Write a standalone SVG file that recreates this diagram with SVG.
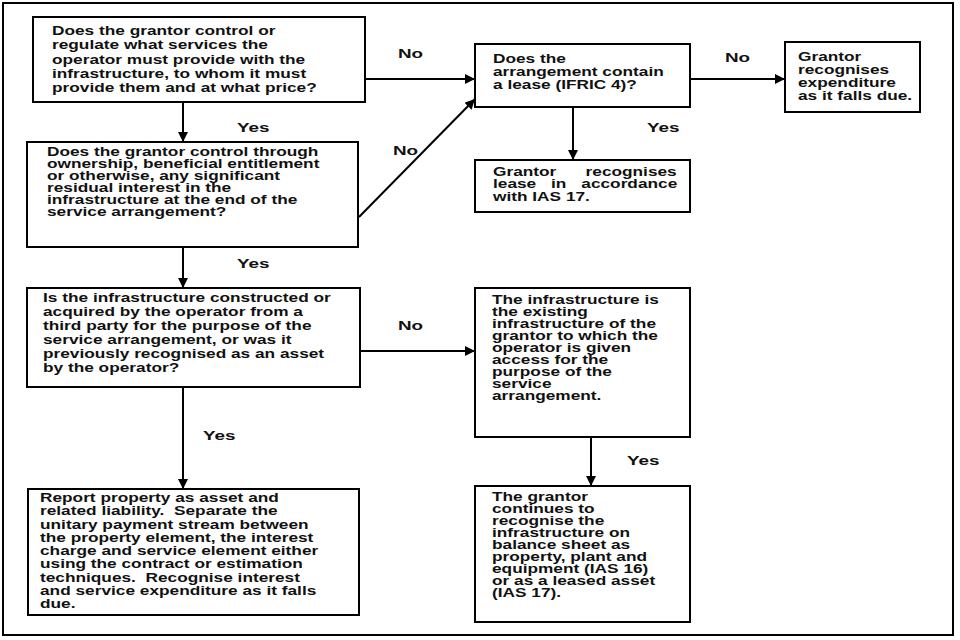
<svg xmlns="http://www.w3.org/2000/svg" width="960" height="640" viewBox="0 0 960 640">
<style>
.box{fill:#fff;stroke:#000;stroke-width:2}
.t{font-family:"Liberation Sans",Arial,sans-serif;font-weight:bold;font-size:12px;fill:#111}
.lb{font-family:"Liberation Sans",Arial,sans-serif;font-weight:bold;font-size:13px;fill:#111}
.c{stroke:#000;stroke-width:2;fill:none;marker-end:url(#ah)}
</style>
<defs>
<marker id="ah" viewBox="0 0 10 10" refX="10" refY="5" markerWidth="11" markerHeight="10" markerUnits="userSpaceOnUse" orient="auto"><path d="M0,0 L10,5 L0,10 z" fill="#000"/></marker>
</defs>
<rect x="0" y="0" width="960" height="640" fill="#fff"/>
<rect x="3" y="3" width="950" height="632" fill="none" stroke="#000" stroke-width="2"/>

<g id="connectors">
<line class="c" x1="365" y1="79" x2="475" y2="79"/>
<line class="c" x1="359" y1="217" x2="475" y2="99"/>
<line class="c" x1="183" y1="102" x2="183" y2="142"/>
<line class="c" x1="183" y1="247" x2="183" y2="288"/>
<line class="c" x1="360" y1="351" x2="475" y2="351"/>
<line class="c" x1="183" y1="387" x2="183" y2="489"/>
<line class="c" x1="690" y1="79" x2="785" y2="79"/>
<line class="c" x1="573" y1="107" x2="573" y2="160"/>
<line class="c" x1="591" y1="437" x2="591" y2="486"/>
<text class="lb" transform="translate(398,58) scale(1.45,1)">No</text>
<text class="lb" transform="translate(393,155) scale(1.45,1)">No</text>
<text class="lb" transform="translate(237,132) scale(1.45,1)">Yes</text>
<text class="lb" transform="translate(237,268) scale(1.45,1)">Yes</text>
<text class="lb" transform="translate(398,330) scale(1.45,1)">No</text>
<text class="lb" transform="translate(203,440) scale(1.45,1)">Yes</text>
<text class="lb" transform="translate(725,62) scale(1.45,1)">No</text>
<text class="lb" transform="translate(647,132) scale(1.45,1)">Yes</text>
<text class="lb" transform="translate(627,465) scale(1.45,1)">Yes</text>
</g>

<g id="q1">
<rect class="box" x="33" y="17" width="332" height="85"/>
<text class="t" transform="translate(52,35) scale(1.44,1)"><tspan x="0" y="0">Does the grantor control or</tspan><tspan x="0" y="14.3">regulate what services the</tspan><tspan x="0" y="28.6">operator must provide with the</tspan><tspan x="0" y="42.9">infrastructure, to whom it must</tspan><tspan x="0" y="57.2">provide them and at what price?</tspan></text>
</g>

<g id="q2">
<rect class="box" x="27" y="142" width="331" height="105"/>
<text class="t" transform="translate(47,156) scale(1.44,1)"><tspan x="0" y="0">Does the grantor control through</tspan><tspan x="0" y="12">ownership, beneficial entitlement</tspan><tspan x="0" y="24">or otherwise, any significant</tspan><tspan x="0" y="36">residual interest in the</tspan><tspan x="0" y="48">infrastructure at the end of the</tspan><tspan x="0" y="60">service arrangement?</tspan></text>
</g>

<g id="q3">
<rect class="box" x="27" y="288" width="333" height="99"/>
<text class="t" transform="translate(43,302) scale(1.44,1)"><tspan x="0" y="0">Is the infrastructure constructed or</tspan><tspan x="0" y="14">acquired by the operator from a</tspan><tspan x="0" y="28">third party for the purpose of the</tspan><tspan x="0" y="42">service arrangement, or was it</tspan><tspan x="0" y="56">previously recognised as an asset</tspan><tspan x="0" y="70">by the operator?</tspan></text>
</g>

<g id="report">
<rect class="box" x="28" y="489" width="331" height="126"/>
<text class="t" transform="translate(40,502) scale(1.44,1)"><tspan x="0" y="0">Report property as asset and</tspan><tspan x="0" y="13.3">related liability.&#160; Separate the</tspan><tspan x="0" y="26.6">unitary payment stream between</tspan><tspan x="0" y="39.9">the property element, the interest</tspan><tspan x="0" y="53.2">charge and service element either</tspan><tspan x="0" y="66.5">using the contract or estimation</tspan><tspan x="0" y="79.8">techniques.&#160; Recognise interest</tspan><tspan x="0" y="93.1">and service expenditure as it falls</tspan><tspan x="0" y="106.4">due.</tspan></text>
</g>

<g id="lease">
<rect class="box" x="475" y="44" width="215" height="63"/>
<text class="t" transform="translate(493,63) scale(1.44,1)"><tspan x="0" y="0">Does the</tspan><tspan x="0" y="13">arrangement contain</tspan><tspan x="0" y="26">a lease (IFRIC 4)?</tspan></text>
</g>

<g id="expenditure">
<rect class="box" x="785" y="42" width="135" height="70"/>
<text class="t" transform="translate(798,61) scale(1.44,1)"><tspan x="0" y="0">Grantor</tspan><tspan x="0" y="13">recognises</tspan><tspan x="0" y="26">expenditure</tspan><tspan x="0" y="39">as it falls due.</tspan></text>
</g>

<g id="ias17">
<rect class="box" x="475" y="160" width="215" height="52"/>
<text class="t" transform="translate(493,176) scale(1.44,1)"><tspan x="0" y="0" word-spacing="17">Grantor recognises</tspan><tspan x="0" y="12.5" word-spacing="7">lease in accordance</tspan><tspan x="0" y="25">with IAS 17.</tspan></text>
</g>

<g id="existing">
<rect class="box" x="475" y="288" width="215" height="149"/>
<text class="t" transform="translate(492,304) scale(1.44,1)"><tspan x="0" y="0">The infrastructure is</tspan><tspan x="0" y="12">the existing</tspan><tspan x="0" y="24">infrastructure of the</tspan><tspan x="0" y="36">grantor to which the</tspan><tspan x="0" y="48">operator is given</tspan><tspan x="0" y="60">access for the</tspan><tspan x="0" y="72">purpose of the</tspan><tspan x="0" y="84">service</tspan><tspan x="0" y="96">arrangement.</tspan></text>
</g>

<g id="continues">
<rect class="box" x="475" y="486" width="215" height="136"/>
<text class="t" transform="translate(492,501) scale(1.44,1)"><tspan x="0" y="0">The grantor</tspan><tspan x="0" y="12">continues to</tspan><tspan x="0" y="24">recognise the</tspan><tspan x="0" y="36">infrastructure on</tspan><tspan x="0" y="48">balance sheet as</tspan><tspan x="0" y="60">property, plant and</tspan><tspan x="0" y="72">equipment (IAS 16)</tspan><tspan x="0" y="84">or as a leased asset</tspan><tspan x="0" y="96">(IAS 17).</tspan></text>
</g>
</svg>
